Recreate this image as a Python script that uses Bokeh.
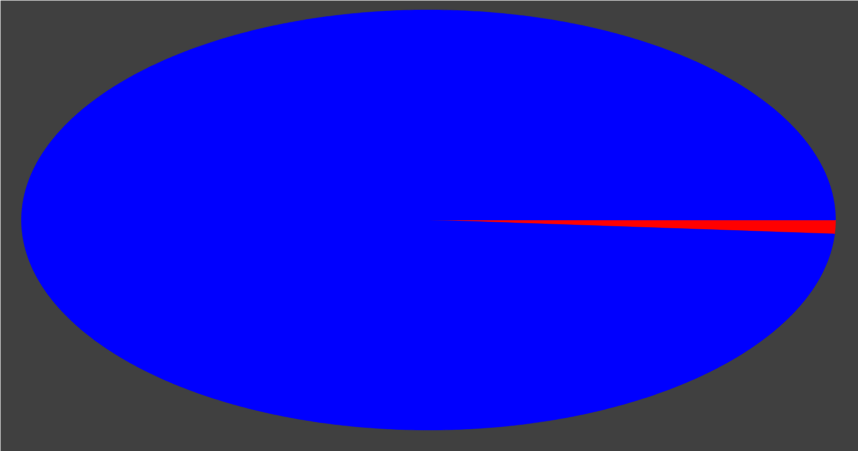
import numpy as np
from bokeh.plotting import figure
from bokeh.models import ColumnDataSource, Range1d
from bokeh.embed import file_html
from bokeh.resources import INLINE

# data
categories = ["Red", "Blue"]
values = [1.06, 98.94]
colors = ["#ff0000", "#0000ff"]

W, H = 858, 451
cx_px, cy_px = 428, 219.5   # centre from top-left of figure
rx_px, ry_px = 407, 210

x0 = -cx_px / rx_px
x1 = (W - cx_px) / rx_px
y1 = cy_px / ry_px
y0 = -(H - cy_px) / ry_px

p = figure(width=W, height=H, output_backend="svg", toolbar_location=None,
           x_range=Range1d(x0, x1), y_range=Range1d(y0, y1), min_border=0)
p.axis.visible = False
p.grid.visible = False
p.background_fill_color = "#404040"
p.border_fill_color = "#404040"
p.outline_line_color = None

total = float(sum(values))
xs, ys = [], []
start = 0.0
for v in values:
    end = start - 2 * np.pi * v / total   # clockwise
    n = max(3, int(abs(end - start) / (2 * np.pi) * 720) + 2)
    t = np.linspace(start, end, n)
    xs.append([0.0] + list(np.cos(t)) + [0.0])
    ys.append([0.0] + list(np.sin(t)) + [0.0])
    start = end

src = ColumnDataSource(dict(xs=xs, ys=ys, color=colors, name=categories))
p.patches("xs", "ys", source=src, fill_color="color", line_color="color", line_width=0.5)

open("out.html", "w").write(file_html(p, INLINE))
